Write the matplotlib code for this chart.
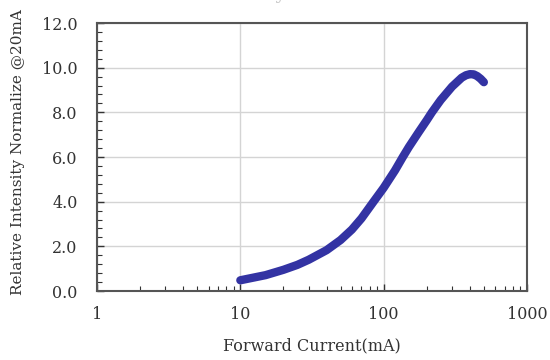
import matplotlib
matplotlib.use("Agg")
import matplotlib.pyplot as plt
from matplotlib.ticker import MultipleLocator, FixedLocator, FixedFormatter, LogLocator, NullFormatter

current_ma = [10, 15, 20, 25, 30, 40, 50, 60, 70, 85, 100, 120, 136, 150, 175, 200, 217,
              250, 300, 350, 375, 400, 425, 450, 475, 500]
rel_intensity = [0.48, 0.71, 0.95, 1.17, 1.40, 1.83, 2.28, 2.75, 3.25, 4.0, 4.62, 5.4, 6.0, 6.45,
                 7.1, 7.65, 8.0, 8.55, 9.15, 9.55, 9.66, 9.71, 9.7, 9.62, 9.5, 9.35]
x_ticks = [1, 10, 100, 1000]
x_tick_labels = ["1", "10", "100", "1000"]
y_ticks = [0, 2, 4, 6, 8, 10, 12]

plt.rcParams['font.family'] = ['DejaVu Serif']

fig = plt.figure(figsize=(5.5, 3.6), dpi=100)
ax = fig.add_axes([97/550, 1-291/360, 430/550, 268/360])

ax.plot(current_ma, rel_intensity, color='#3333A3', lw=6.0, solid_capstyle='round', solid_joinstyle='round')

ax.set_xscale('log')
ax.set_xlim(1, 1000)
ax.set_ylim(0, 12)
ax.xaxis.set_major_locator(FixedLocator(x_ticks))
ax.xaxis.set_major_formatter(FixedFormatter(x_tick_labels))
ax.xaxis.set_minor_locator(LogLocator(base=10, subs=range(2, 10)))
ax.xaxis.set_minor_formatter(NullFormatter())
ax.yaxis.set_major_locator(FixedLocator(y_ticks))
ax.yaxis.set_major_formatter(plt.FuncFormatter(lambda v, p: f"{v:.1f}"))
ax.yaxis.set_minor_locator(MultipleLocator(0.4))

ax.grid(True, which='major', color='#d4d4d4', lw=1.0)
ax.set_axisbelow(True)
ax.tick_params(which='both', direction='in', top=False, right=False, color='#333333', labelsize=11.5, labelcolor='#333333')
ax.tick_params(which='major', length=5, width=1)
ax.tick_params(which='minor', length=3.5, width=0.8)
ax.tick_params(axis='x', pad=11)
ax.tick_params(axis='y', pad=14)
for s in ax.spines.values():
    s.set_color('#555555')
    s.set_linewidth(1.5)

ax.set_xlabel('Forward Current(mA)', fontsize=11.5, color='#333333', labelpad=10)
ax.set_ylabel('Relative Intensity Normalize @20mA', fontsize=11, color='#333333')
ax.yaxis.set_label_coords(-0.167, 0.52)

fig.text(0.55, 1 + 1/360, 'Relative Intensity vs. Forward Current', ha='center', va='baseline',
         fontsize=14, color='#cccccc')

fig.savefig('out.png', dpi=100)
